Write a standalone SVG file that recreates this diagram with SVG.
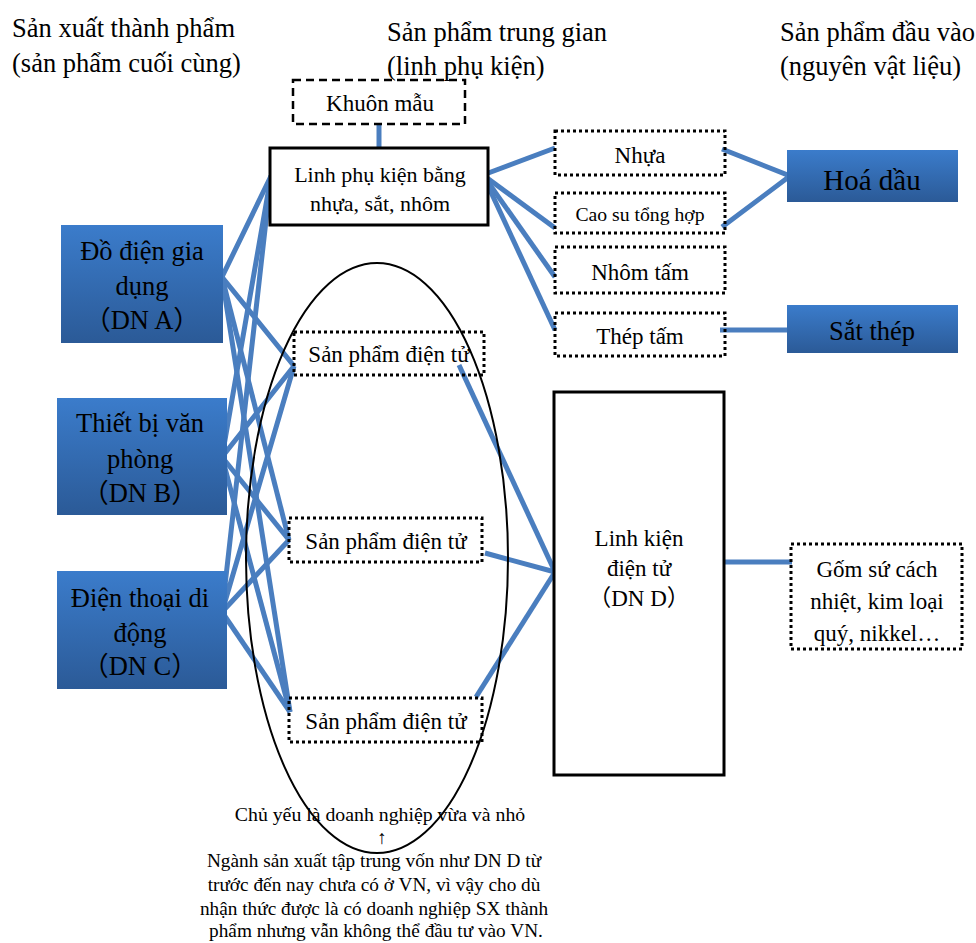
<svg xmlns="http://www.w3.org/2000/svg" width="976" height="943" viewBox="0 0 976 943">
  <style>
    text { font-family: "Liberation Serif", "DejaVu Serif", serif; fill: #000; text-anchor: middle; }
    .cjk { font-family: "Noto Sans CJK JP", sans-serif; }
    .hdr { font-size: 26.5px; text-anchor: start; }
    .big { font-size: 26.5px; }
    .mid { font-size: 23px; }
    .note { font-size: 19.3px; }
    .solid { fill: #fff; stroke: #000; stroke-width: 3; }
    .dotted { fill: none; stroke: #000; stroke-width: 3; stroke-dasharray: 3 3; }
    .dashed { fill: none; stroke: #000; stroke-width: 2.5; stroke-dasharray: 8 5; }
    .blue { fill: url(#blueGrad); }
    .link { stroke: #4a7ebf; stroke-width: 5; fill: none; stroke-linecap: butt; }
  </style>
  <defs>
    <linearGradient id="blueGrad" x1="0" y1="0" x2="0" y2="1">
      <stop offset="0" stop-color="#3b7ccb"/>
      <stop offset="1" stop-color="#2b5a97"/>
    </linearGradient>
  </defs>
  <rect width="976" height="943" fill="#fff"/>

  <!-- column headers -->
  <g id="headers">
    <text class="hdr" x="12" y="37">Sản xuất thành phẩm</text>
    <text class="hdr" x="12" y="72">(sản phẩm cuối cùng)</text>
    <text class="hdr" x="387" y="41">Sản phẩm trung gian</text>
    <text class="hdr" x="387" y="75">(linh phụ kiện)</text>
    <text class="hdr" x="780" y="41">Sản phẩm đầu vào</text>
    <text class="hdr" x="780" y="75">(nguyên vật liệu)</text>
  </g>

  <!-- connectors -->
  <g id="connectors">
    <line class="link" x1="379" y1="124" x2="379" y2="148"/>
    <!-- finished goods to intermediate products -->
    <polyline class="link" points="271,176 222,277 294,366"/>
    <line class="link" x1="222" y1="277" x2="289" y2="540"/>
    <line class="link" x1="222" y1="277" x2="290" y2="712"/>
    <polyline class="link" points="271,176 222,457 294,366"/>
    <line class="link" x1="222" y1="457" x2="289" y2="540"/>
    <line class="link" x1="222" y1="457" x2="290" y2="712"/>
    <polyline class="link" points="271,176 222,612 294,366"/>
    <line class="link" x1="222" y1="612" x2="289" y2="540"/>
    <line class="link" x1="222" y1="612" x2="290" y2="712"/>
    <!-- accessories to materials -->
    <line class="link" x1="483" y1="175" x2="555" y2="148"/>
    <line class="link" x1="483" y1="175" x2="555" y2="228"/>
    <line class="link" x1="483" y1="175" x2="555" y2="277"/>
    <line class="link" x1="483" y1="175" x2="555" y2="330"/>
    <polyline class="link" points="722,149 790,176 722,227"/>
    <line class="link" x1="720" y1="330" x2="792" y2="330"/>
    <!-- electronic products to components -->
    <line class="link" x1="459" y1="365" x2="555" y2="572"/>
    <line class="link" x1="485" y1="553" x2="555" y2="572"/>
    <line class="link" x1="476" y1="697" x2="555" y2="572"/>
    <line class="link" x1="720" y1="562" x2="792" y2="562"/>
  </g>

  <g id="khuon-mau">
    <rect class="dashed" x="293" y="80" width="172" height="44"/>
    <text class="mid" x="380" y="111">Khuôn mẫu</text>
  </g>

  <g id="linh-phu-kien">
    <rect class="solid" x="270" y="148" width="218" height="77"/>
    <text x="380" y="182" font-size="22">Linh phụ kiện bằng</text>
    <text x="380" y="211" font-size="22">nhựa, sắt, nhôm</text>
  </g>

  <g id="dn-a">
    <rect class="blue" x="61" y="225" width="162" height="118"/>
    <text class="big" x="142" y="260">Đồ điện gia</text>
    <text class="big" x="142" y="295">dụng</text>
    <text class="big" x="142" y="329"><tspan class="cjk">（</tspan>DN A<tspan class="cjk">）</tspan></text>
  </g>

  <g id="dn-b">
    <rect class="blue" x="57" y="398" width="170" height="117"/>
    <text class="big" x="140" y="432">Thiết bị văn</text>
    <text class="big" x="140" y="468">phòng</text>
    <text class="big" x="140" y="502"><tspan class="cjk">（</tspan>DN B<tspan class="cjk">）</tspan></text>
  </g>

  <g id="dn-c">
    <rect class="blue" x="57" y="571" width="170" height="118"/>
    <text class="big" x="140" y="607">Điện thoại di</text>
    <text class="big" x="140" y="642">động</text>
    <text class="big" x="140" y="675"><tspan class="cjk">（</tspan>DN C<tspan class="cjk">）</tspan></text>
  </g>

  <g id="nhua">
    <rect class="dotted" x="555" y="131" width="170" height="44"/>
    <text class="mid" x="640" y="163">Nhựa</text>
  </g>
  <g id="cao-su">
    <rect class="dotted" x="555" y="193" width="170" height="40"/>
    <text x="640" y="221" font-size="19.7">Cao su tổng hợp</text>
  </g>
  <g id="nhom-tam">
    <rect class="dotted" x="555" y="247" width="170" height="46"/>
    <text class="mid" x="640" y="280">Nhôm tấm</text>
  </g>
  <g id="thep-tam">
    <rect class="dotted" x="555" y="313" width="170" height="43"/>
    <text class="mid" x="640" y="344">Thép tấm</text>
  </g>

  <g id="hoa-dau">
    <rect class="blue" x="787" y="150" width="171" height="52"/>
    <text x="872" y="190" font-size="29">Hoá dầu</text>
  </g>
  <g id="sat-thep">
    <rect class="blue" x="787" y="305" width="171" height="48"/>
    <text x="872" y="340" font-size="26.5">Sắt thép</text>
  </g>

  <g id="sp-dien-tu-1">
    <rect class="dotted" x="294" y="332" width="190" height="43"/>
    <text class="mid" x="389" y="362">Sản phẩm điện tử</text>
  </g>
  <g id="sp-dien-tu-2">
    <rect class="dotted" x="289" y="518" width="193" height="44"/>
    <text class="mid" x="386" y="549">Sản phẩm điện tử</text>
  </g>
  <g id="sp-dien-tu-3">
    <rect class="dotted" x="289" y="698" width="193" height="44"/>
    <text class="mid" x="386" y="729">Sản phẩm điện tử</text>
  </g>

  <g id="linh-kien">
    <rect class="solid" x="554" y="392" width="170" height="383"/>
    <text class="mid" x="639" y="546">Linh kiện</text>
    <text class="mid" x="639" y="576">điện tử</text>
    <text class="mid" x="639" y="606"><tspan class="cjk">（</tspan>DN D<tspan class="cjk">）</tspan></text>
  </g>

  <g id="gom-su">
    <rect class="dotted" x="791" y="544" width="171" height="105"/>
    <text class="mid" x="877" y="577">Gốm sứ cách</text>
    <text class="mid" x="877" y="609">nhiệt, kim loại</text>
    <text class="mid" x="877" y="641">quý, nikkel…</text>
  </g>

  <g id="note">
    <text x="380" y="821" font-size="19.8">Chủ yếu là doanh nghiệp vừa và nhỏ</text>
    <text x="382" y="844" font-size="19">↑</text>
    <text class="note" x="374" y="867">Ngành sản xuất tập trung vốn như DN D từ</text>
    <text class="note" x="374" y="891">trước đến nay chưa có ở VN, vì vậy cho dù</text>
    <text class="note" x="374" y="915">nhận thức được là có doanh nghiệp SX thành</text>
    <text class="note" x="376" y="937">phẩm nhưng vẫn không thể đầu tư vào VN.</text>
  </g>

  <g id="sme-group">
    <ellipse cx="377" cy="558" rx="131" ry="295" fill="none" stroke="#000" stroke-width="2"/>
  </g>
</svg>
